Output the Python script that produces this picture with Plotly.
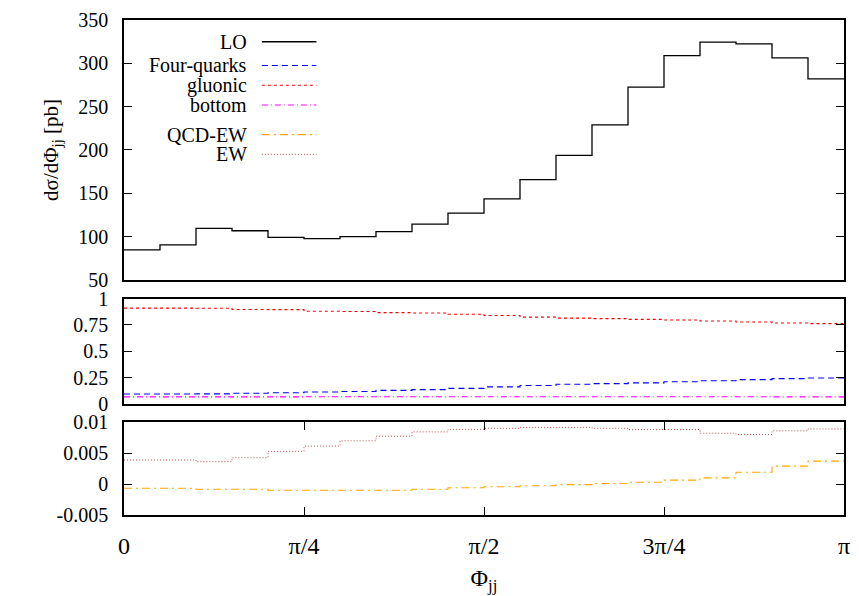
import math
import plotly.graph_objects as go

# ---------------- data ----------------
n_bins = 20
bin_edges = [i * math.pi / n_bins for i in range(n_bins + 1)]

lo_values = [84.6, 90.3, 109.4, 106.7, 99.0, 97.6, 99.9, 105.6, 114.3, 127.0,
             143.6, 165.7, 193.8, 228.9, 272.6, 308.8, 324.4, 322.5, 306.2, 282.1]

four_quarks = [0.094, 0.094, 0.095, 0.100, 0.105, 0.112, 0.118, 0.128, 0.135, 0.147,
               0.161, 0.174, 0.186, 0.192, 0.199, 0.210, 0.220, 0.230, 0.240, 0.245]
gluonic = [0.910, 0.910, 0.909, 0.897, 0.895, 0.880, 0.877, 0.867, 0.864, 0.852,
           0.840, 0.824, 0.815, 0.810, 0.803, 0.797, 0.787, 0.778, 0.768, 0.762]
bottom = [0.066, 0.066, 0.066, 0.066, 0.066, 0.067, 0.067, 0.067, 0.067, 0.068,
          0.068, 0.068, 0.068, 0.068, 0.068, 0.068, 0.067, 0.067, 0.066, 0.066]

qcd_ew = [-0.00069, -0.00069, -0.00085, -0.00085, -0.0010, -0.0010, -0.0010, -0.0010, -0.00085, -0.0006,
          -0.00043, -0.00027, -0.0001, 0.0001, 0.0003, 0.00064, 0.0010, 0.0019, 0.0029, 0.0037]
ew = [0.00388, 0.00388, 0.00362, 0.00426, 0.00527, 0.00612, 0.00698, 0.00772, 0.00842, 0.00883,
      0.0090, 0.00915, 0.00915, 0.0090, 0.0088, 0.0088, 0.0082, 0.0080, 0.0086, 0.0089]

x_tickvals = [0, math.pi / 4, math.pi / 2, 3 * math.pi / 4, math.pi]
x_ticktext = ["0", "π/4", "π/2", "3π/4", "π"]

top_ticks = [50, 100, 150, 200, 250, 300, 350]
mid_ticks = [0, 0.25, 0.5, 0.75, 1]
mid_ticktext = ["0", "0.25", "0.5", "0.75", "1"]
bot_ticks = [-0.005, 0, 0.005, 0.01]
bot_ticktext = ["-0.005", "0", "0.005", "0.01"]

# ---------------- styles ----------------
FONT = "Liberation Serif"
series_styles = {
    "LO": dict(color="black", dash="solid", width=1.3),
    "Four-quarks": dict(color="blue", dash="6px,4px", width=1.1),
    "gluonic": dict(color="red", dash="3px,3px", width=1.1),
    "bottom": dict(color="magenta", dash="6px,3px,1px,3px", width=1.1),
    "QCD-EW": dict(color="orange", dash="8px,4px,2px,4px", width=1.1),
    "EW": dict(color="#c05050", dash="1px,2px", width=1.0),
}


def step(values):
    return bin_edges, list(values) + [values[-1]]


fig = go.Figure()


def add(name, values, xa, ya):
    xs, ys = step(values)
    st = series_styles[name]
    fig.add_trace(go.Scatter(x=xs, y=ys, mode="lines", line_shape="hv", name=name,
                             line=dict(color=st["color"], dash=st["dash"], width=st["width"]),
                             xaxis=xa, yaxis=ya, showlegend=False, hoverinfo="skip"))


add("LO", lo_values, "x", "y")
add("gluonic", gluonic, "x2", "y2")
add("Four-quarks", four_quarks, "x2", "y2")
add("bottom", bottom, "x2", "y2")
add("EW", ew, "x3", "y3")
add("QCD-EW", qcd_ew, "x3", "y3")

# pixel geometry
W, H = 859, 596
L, R, T, B = 124, 9, 17, 78
plot_h = H - T - B
plot_w = W - L - R


def py2paper(py):
    return (H - B - py) / plot_h


def px2paper(px):
    return (px - L) / plot_w


dom_top = [py2paper(280), 1.0]
dom_mid = [py2paper(405.5), py2paper(299)]
dom_bot = [0.0, py2paper(424)]

axis_common = dict(showline=True, linecolor="black", linewidth=1.5, mirror="allticks",
                   showgrid=False, zeroline=False, tickcolor="black", ticks="inside",
                   ticklen=8, tickwidth=1.2,
                   tickfont=dict(family=FONT, size=20, color="black"))

xcommon = dict(range=[0, math.pi], showline=True, linecolor="black", linewidth=1.5,
               showgrid=False, zeroline=False)

fig.update_layout(
    width=W, height=H,
    margin=dict(l=L, r=R, t=T, b=B, pad=0),
    paper_bgcolor="white", plot_bgcolor="white",
    font=dict(family=FONT, size=20, color="black"),
    showlegend=False,
    xaxis=dict(**xcommon, domain=[0, 1], anchor="y", mirror=True, ticks="",
               showticklabels=False, matches="x3"),
    xaxis2=dict(**xcommon, domain=[0, 1], anchor="y2", mirror=True, ticks="",
                showticklabels=False, matches="x3"),
    xaxis3=dict(**xcommon, domain=[0, 1], anchor="y3", mirror="allticks", ticks="inside",
                ticklen=8, tickwidth=1.2, tickcolor="black",
                tickvals=x_tickvals, ticktext=x_ticktext, ticklabelstandoff=8,
                tickfont=dict(family=FONT, size=24, color="black"),
                title=dict(text="Φ<sub>jj</sub>", font=dict(family=FONT, size=24, color="black"),
                           standoff=12)),
    yaxis=dict(**axis_common, domain=dom_top, anchor="x", range=[50, 350], tickvals=top_ticks,
               ticklabelstandoff=10,
               title=dict(text="dσ/dΦ<sub>jj</sub> [pb]", font=dict(family=FONT, size=21, color="black"),
                          standoff=14)),
    yaxis2=dict(**axis_common, domain=dom_mid, anchor="x2", range=[0, 1], tickvals=mid_ticks,
                ticktext=mid_ticktext, ticklabelstandoff=10),
    yaxis3=dict(**axis_common, domain=dom_bot, anchor="x3", range=[-0.005, 0.01], tickvals=bot_ticks,
                ticktext=bot_ticktext, ticklabelstandoff=10),
)

# manual gnuplot-style key (text right, sample on the right)
legend_rows = [("LO", 39), ("Four-quarks", 63), ("gluonic", 83), ("bottom", 103),
               ("QCD-EW", 133), ("EW", 153)]
text_right = px2paper(250)
line_x0, line_x1 = px2paper(263), px2paper(318)
for name, ypx in legend_rows:
    yp = py2paper(ypx)
    fig.add_annotation(x=text_right, y=yp, xref="paper", yref="paper", text=name,
                       showarrow=False, xanchor="right", yanchor="middle",
                       font=dict(family=FONT, size=20, color="black"))
    st = series_styles[name]
    fig.add_shape(type="line", xref="paper", yref="paper", x0=line_x0, x1=line_x1, y0=yp, y1=yp,
                  line=dict(color=st["color"], dash=st["dash"], width=st["width"]))

fig.write_html("out.html")
